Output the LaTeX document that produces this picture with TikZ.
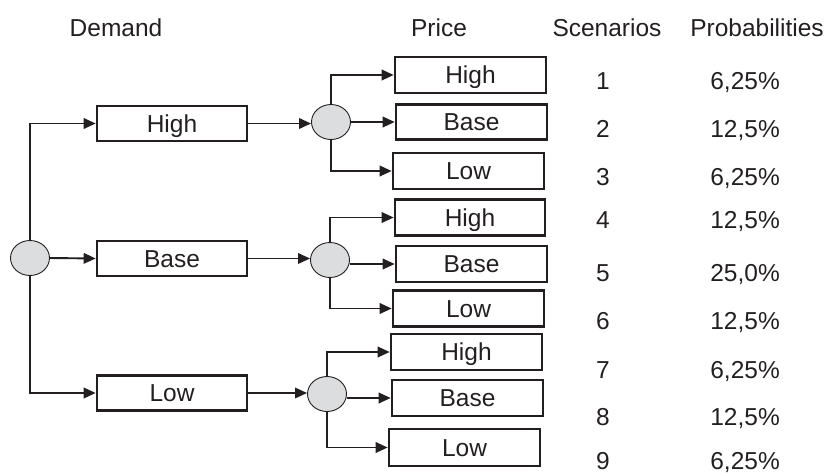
\documentclass[tikz,border=0pt]{standalone}
\usepackage{fontspec}
\setmainfont{Liberation Sans}
\usetikzlibrary{arrows.meta,shapes.geometric}
\definecolor{ink}{HTML}{231F20}
\definecolor{nodefill}{HTML}{DCDDDE}
\begin{document}
\begin{tikzpicture}[x=1pt,y=-1pt,
  every node/.style={font=\fontsize{24.5}{29}\selectfont, text=ink, inner sep=0pt},
  dbox/.style={draw=ink, line width=2.6pt, minimum width=150pt, minimum height=35pt, text height=17.6pt, text depth=0pt},
  chance/.style={ellipse, draw=ink, line width=0.9pt, fill=nodefill, minimum width=39pt, minimum height=35pt},
  arr/.style={draw=ink, line width=1.9pt, -{Triangle[length=12pt,width=10.5pt]}},
  lbl/.style={anchor=base},
  prob/.style={anchor=base east}]
\useasboundingbox (0,0) rectangle (833,474);
% headers
\node[lbl] (hD) at (116,36) {Demand};
\node[lbl] (hP) at (439,36) {Price};
\node[lbl] (hS) at (607,36) {Scenarios};
\node[lbl] (hR) at (757,36) {Probabilities};
% root
\node[chance] (root) at (30,258) {};
% demand boxes
\node[dbox] (dH) at (172,123.5) {High};
\node[dbox] (dB) at (172,258.5) {Base};
\node[dbox] (dL) at (172,393) {Low};
% chance nodes stage 2
\node[chance] (cH) at (331,122) {};
\node[chance] (cB) at (330,260) {};
\node[chance] (cL) at (327,394) {};
% price boxes
\node[dbox, minimum width=151pt, minimum height=36pt] (pH1) at (470.5,75) {High};
\node[dbox, minimum width=151pt] (pB1) at (471.5,122) {Base};
\node[dbox, minimum width=151pt, minimum height=36pt] (pL1) at (468.5,171) {Low};
\node[dbox, minimum height=36pt] (pH2) at (470,217.5) {High};
\node[dbox, minimum width=151pt, minimum height=36pt] (pB2) at (471.5,264) {Base};
\node[dbox, minimum width=151pt, minimum height=36pt] (pL2) at (468.5,308.5) {Low};
\node[dbox, minimum width=151pt, minimum height=36pt] (pH3) at (466.5,352) {High};
\node[dbox, minimum width=151pt, minimum height=36pt] (pB3) at (467.5,398) {Base};
\node[dbox, minimum width=151pt, minimum height=37pt] (pL3) at (464.5,447.5) {Low};
% root connectors
\draw[arr] (root.north) |- (dH.west);
\draw[arr] (root.east) -- (dB.west);
\draw[arr] (root.south) |- (dL.west);
% demand to chance
\draw[arr] (dH.east) -- (dH.east -| cH.west);
\draw[arr] (dB.east) -- (dB.east -| cB.west);
\draw[arr] (dL.east) -- (dL.east -| cL.west);
% chance to price
\draw[arr] (cH.north) |- (pH1.west);
\draw[arr] (cH.east) -- (pB1.west);
\draw[arr] (cH.south) |- (pL1.west);
\draw[arr] (cB.north) |- (pH2.west);
\draw[arr] (cB.east |- pB2.west) -- (pB2.west);
\draw[arr] (cB.south) |- (pL2.west);
\draw[arr] (cL.north) |- (pH3.west);
\draw[arr] (cL.east |- pB3.west) -- (pB3.west);
\draw[arr] (cL.south) |- (pL3.west);
% scenarios
\node[lbl] (s1) at (603,89) {1};
\node[lbl] (s2) at (603,137) {2};
\node[lbl] (s3) at (603,185) {3};
\node[lbl] (s4) at (603,228) {4};
\node[lbl] (s5) at (603,281) {5};
\node[lbl] (s6) at (603,329) {6};
\node[lbl] (s7) at (603,378) {7};
\node[lbl] (s8) at (603,425) {8};
\node[lbl] (s9) at (603,469) {9};
% probabilities
\node[prob] (p1) at (780,89) {6,25\%};
\node[prob] (p2) at (780,137) {12,5\%};
\node[prob] (p3) at (780,185) {6,25\%};
\node[prob] (p4) at (780,228) {12,5\%};
\node[prob] (p5) at (780,281) {25,0\%};
\node[prob] (p6) at (780,329) {12,5\%};
\node[prob] (p7) at (780,378) {6,25\%};
\node[prob] (p8) at (780,425) {12,5\%};
\node[prob] (p9) at (780,469) {6,25\%};
\end{tikzpicture}
\end{document}
